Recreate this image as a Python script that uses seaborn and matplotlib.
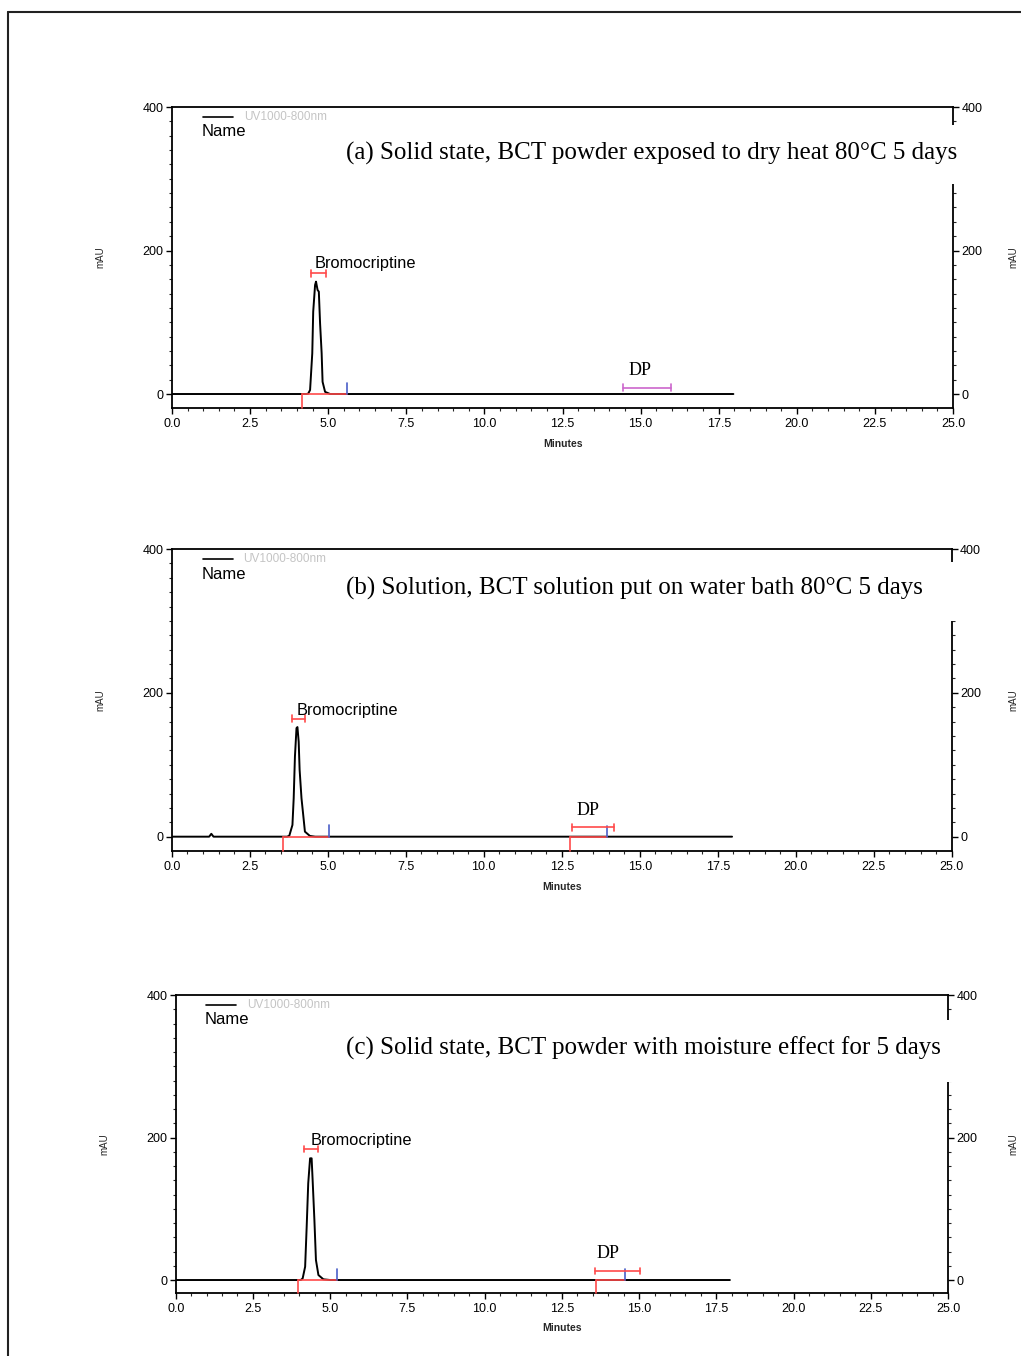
import matplotlib
matplotlib.use("Agg")
import matplotlib.pyplot as plt
from matplotlib.lines import Line2D
from matplotlib.patches import Rectangle
from matplotlib.ticker import FixedLocator
import numpy as np
import pandas as pd
import seaborn as sns

# ---- chromatogram traces (minutes, mAU) ----
trace_a_min = [0.0, 4.30, 4.36, 4.42, 4.49, 4.52, 4.58, 4.61, 4.66, 4.70, 4.74, 4.79, 4.82, 4.90, 5.06, 17.97]
trace_a_mau = [0.0, 0.0, 0.5, 5.6, 56.7, 114.7, 152.0, 156.6, 145.0, 142.6, 98.5, 57.0, 17.0, 3.0, 0.0, 0.0]

trace_b_min = [0.0, 1.20, 1.27, 1.34, 3.70, 3.77, 3.87, 3.91, 3.95, 4.00, 4.03, 4.07, 4.10, 4.16, 4.21, 4.27, 4.43, 4.60, 17.96]
trace_b_mau = [0.0, 0.0, 4.0, 0.0, 0.0, 1.4, 16.3, 53.4, 111.5, 151.0, 152.4, 132.0, 93.0, 53.4, 32.5, 7.0, 1.0, 0.0, 0.0]

trace_c_min = [0.0, 4.05, 4.11, 4.19, 4.24, 4.29, 4.35, 4.40, 4.43, 4.49, 4.54, 4.62, 4.78, 5.00, 17.94]
trace_c_mau = [0.0, 0.0, 2.3, 18.7, 74.9, 135.7, 170.8, 170.8, 142.7, 84.0, 28.0, 7.0, 1.0, 0.0, 0.0]

# ---- integration windows (start, end) in minutes ----
peak_window = [(4.15, 5.60), (3.57, 5.03), (3.96, 5.23)]
dp_window = [None, (12.77, 13.94), (13.61, 14.54)]

# ---- named-peak brackets: (start, end, level) ----
peak_bracket = [(4.44, 4.93, 168.0), (3.86, 4.27, 164.0), (4.15, 4.62, 183.5)]
dp_bracket = [(14.45, 15.97, 9.0), (12.82, 14.19, 13.0), (13.57, 15.03, 12.6)]
dp_bracket_color = ["#cc66cc", "#ff4a4a", "#ff4a4a"]

# ---- peak labels: (minutes, mAU) ----
peak_names = ["Bromocriptine", "Bromocriptine", "Bromocriptine"]
peak_label_pos = [(4.58, 182.0), (4.00, 175.0), (4.38, 196.0)]
dp_label_pos = [(14.60, 33.0), (12.96, 37.0), (13.63, 37.0)]

captions = [
    "(a) Solid state, BCT powder exposed to dry heat 80\u00b0C 5 days",
    "(b) Solution, BCT solution put on water bath 80\u00b0C 5 days",
    "(c) Solid state, BCT powder with moisture effect for 5 days",
]

x_ticks = [0.0, 2.5, 5.0, 7.5, 10.0, 12.5, 15.0, 17.5, 20.0, 22.5, 25.0]
x_tick_labels = ["0.0", "2.5", "5.0", "7.5", "10.0", "12.5", "15.0", "17.5", "20.0", "22.5", "25.0"]
y_ticks = [0, 200, 400]
y_tick_labels = ["0", "200", "400"]

sns.set_theme(style="white")
plt.rcParams["font.family"] = ["Liberation Sans", "DejaVu Sans"]

W, H = 1021, 1356
fig = plt.figure(figsize=(W / 100, H / 100), dpi=100)

# panel geometry in pixels: left, right, top, bottom, ymin
panels = [
    (172.0, 953.0, 107.0, 408.0, -19.5),
    (171.7, 951.7, 549.0, 850.7, -19.5),
    (175.7, 948.0, 995.0, 1292.7, -17.8),
]
# white caption band over the right axis (axes fraction y0, y1)
caption_band = [(0.744, 0.940), (0.762, 0.958), (0.709, 0.916)]
caption_y = [0.846, 0.870, 0.8215]
caption_x = [0.2228, 0.224, 0.2205]

traces = [(trace_a_min, trace_a_mau), (trace_b_min, trace_b_mau), (trace_c_min, trace_c_mau)]

red = "#ff4a4a"
blue = "#4a5fc8"

for i, (L, R, T, B, ymin) in enumerate(panels):
    ax = fig.add_axes([L / W, 1 - B / H, (R - L) / W, (B - T) / H])
    df = pd.DataFrame({"Minutes": traces[i][0], "mAU": traces[i][1]})
    sns.lineplot(data=df, x="Minutes", y="mAU", ax=ax, color="black", lw=1.4,
                 sort=False, estimator=None, zorder=3)

    ax.set_xlim(0, 25)
    ax.set_ylim(ymin, 400)

    # integration markers for the main peak
    s, e = peak_window[i]
    ax.plot([s, e], [0, 0], color=red, lw=1.2, zorder=4)
    ax.plot([s, s], [0, ymin], color=red, lw=1.2, zorder=4, clip_on=False)
    ax.plot([e, e], [0, 16], color=blue, lw=1.2, zorder=4)

    if dp_window[i] is not None:
        s, e = dp_window[i]
        ax.plot([s, e], [0, 0], color=red, lw=1.2, zorder=4)
        ax.plot([s, s], [0, ymin], color=red, lw=1.2, zorder=4, clip_on=False)
        ax.plot([e, e], [0, 15], color=blue, lw=1.2, zorder=4)

    # brackets
    cap = 4.5
    s, e, lv = peak_bracket[i]
    ax.plot([s, e], [lv, lv], color=red, lw=1.2, zorder=4)
    ax.plot([s, s], [lv - cap, lv + cap], color=red, lw=1.2, zorder=4)
    ax.plot([e, e], [lv - cap, lv + cap], color=red, lw=1.2, zorder=4)

    s, e, lv = dp_bracket[i]
    c = dp_bracket_color[i]
    ax.plot([s, e], [lv, lv], color=c, lw=1.2, zorder=4)
    ax.plot([s, s], [lv - cap, lv + cap], color=c, lw=1.2, zorder=4)
    ax.plot([e, e], [lv - cap, lv + cap], color=c, lw=1.2, zorder=4)

    px, py = peak_label_pos[i]
    ax.text(px, py, peak_names[i], fontsize=11.8, ha="left", va="center", color="black", zorder=5)
    dx, dy = dp_label_pos[i]
    ax.text(dx, dy, "DP", fontsize=13, family="Liberation Serif", ha="left", va="center",
            color="black", zorder=5)

    # spines
    for side in ["left", "right", "top", "bottom"]:
        ax.spines[side].set_visible(True)
        ax.spines[side].set_color("black")
        ax.spines[side].set_linewidth(1.3)

    # ticks
    ax.xaxis.set_major_locator(FixedLocator(x_ticks))
    ax.set_xticklabels(x_tick_labels)
    ax.xaxis.set_minor_locator(FixedLocator(np.arange(0.5, 25.0, 0.5)))
    ax.yaxis.set_major_locator(FixedLocator(y_ticks))
    ax.set_yticklabels(y_tick_labels)
    ax.yaxis.set_minor_locator(FixedLocator([v for v in range(20, 400, 20) if v != 200]))
    ax.tick_params(axis="x", which="major", direction="out", length=4, width=1.0,
                   bottom=True, top=False, labelsize=9, pad=3.5, colors="black")
    ax.tick_params(axis="x", which="minor", direction="out", length=2.5, width=0.8,
                   bottom=True, top=False)
    ax.tick_params(axis="y", which="major", direction="out", length=4, width=1.0,
                   left=True, right=True, labelleft=True, labelright=True,
                   labelsize=9, pad=2, colors="black")
    ax.tick_params(axis="y", which="minor", direction="out", length=2.2, width=0.8,
                   left=True, right=True)
    ax.set_xlabel("")
    ax.set_ylabel("")

    ax.text(0.5, -0.12, "Minutes", transform=ax.transAxes, fontsize=7.5, fontweight="bold",
            ha="center", va="center")
    ax.text(-0.092, 0.5, "mAU", transform=ax.transAxes, fontsize=7, rotation=90,
            ha="center", va="center")
    ax.text((1013 - L) / (R - L), 0.5, "mAU", transform=ax.transAxes, fontsize=7, rotation=90,
            ha="center", va="center", clip_on=False)

    # legend entry
    ax.add_line(Line2D([0.0397, 0.078], [0.967, 0.967], transform=ax.transAxes,
                       color="black", lw=1.2))
    ax.text(0.092, 0.967, "UV1000-800nm", transform=ax.transAxes, fontsize=8.5,
            color="#c4c4c4", ha="left", va="center")
    ax.text(0.038, 0.917, "Name", transform=ax.transAxes, fontsize=12,
            color="black", ha="left", va="center")

    # caption band
    y0, y1 = caption_band[i]
    ax.add_patch(Rectangle((0.2, y0), 0.815, y1 - y0, transform=ax.transAxes,
                           facecolor="white", edgecolor="none", clip_on=False, zorder=6))
    ax.text(caption_x[i], caption_y[i], captions[i], transform=ax.transAxes,
            fontsize=18, family="Liberation Serif", ha="left", va="center",
            color="black", zorder=7)

# page frame
fig.add_artist(Line2D([8 / W, 1.0], [1 - 12 / H, 1 - 12 / H], color="#222222", lw=1.5))
fig.add_artist(Line2D([8 / W, 8 / W], [1 - 12 / H, 0.0], color="#222222", lw=1.5))

fig.savefig("out.png", dpi=100, facecolor="white")
